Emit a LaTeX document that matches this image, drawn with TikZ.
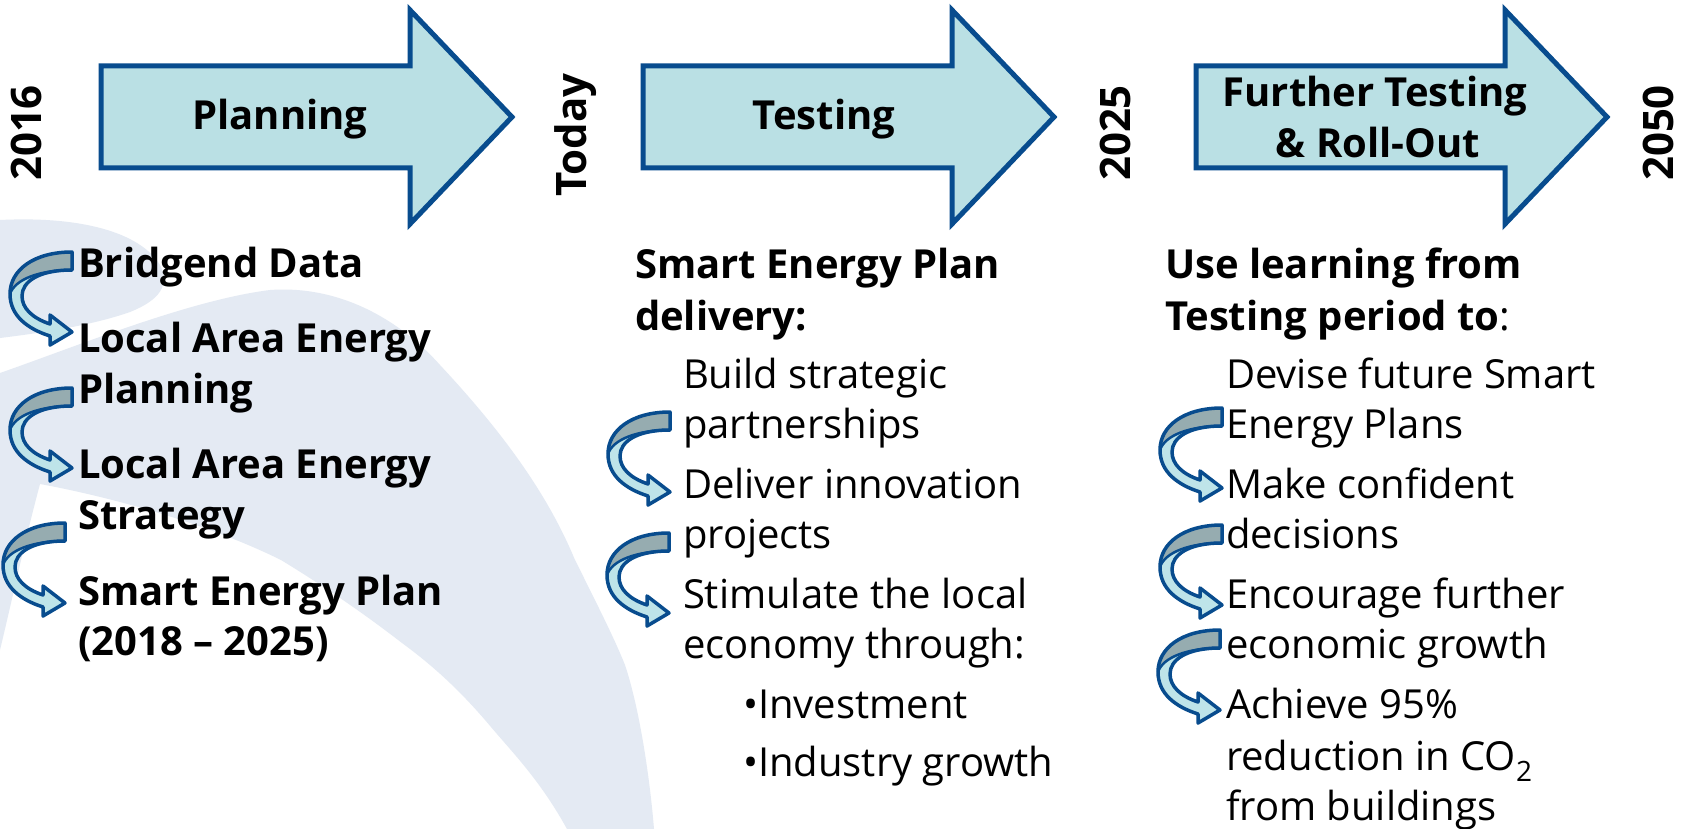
\documentclass[tikz,border=0pt]{standalone}
\usepackage{fontspec}
\setmainfont{Open Sans}
\definecolor{bgswoosh}{RGB}{228,234,243}
\definecolor{arrowblue}{RGB}{8,76,142}
\definecolor{arrowfill}{RGB}{186,224,228}
\definecolor{cfill}{RGB}{190,228,233}
\definecolor{gfill}{RGB}{150,172,176}
\tikzset{
  bigarrow/.style={draw=arrowblue, fill=arrowfill, line width=5pt, line join=miter},
  txt/.style={font=\fontsize{40}{50}\selectfont, anchor=base west, inner sep=0pt, outer sep=0pt},
  btxt/.style={txt, font=\fontsize{40}{50}\selectfont\bfseries},
  yearlbl/.style={font=\fontsize{42}{50}\selectfont\bfseries, rotate=90, inner sep=0pt},
  headlbl/.style={font=\fontsize{40}{50}\selectfont\bfseries, inner sep=0pt, anchor=base},
  cline/.style={draw=arrowblue, line width=3.5pt, line join=round},
  carrow/.pic={
    \fill[cfill] (0,0) .. controls (-38,0) and (-62,18) .. (-62,42)
      .. controls (-62,64) and (-44,77) .. (-22,84) -- (-22,93) -- (0,80) -- (-22,63) -- (-22,72)
      .. controls (-40,66) and (-50,56) .. (-50,44)
      .. controls (-50,30) and (-34,18) .. (0,18) -- cycle;
    \fill[gfill] (0,0) .. controls (-38,0) and (-62,18) .. (-62,42)
      .. controls (-57,27) and (-32,18) .. (0,18) -- cycle;
    \draw[arrowblue, line width=2.5pt] (-62,42) .. controls (-57,27) and (-32,18) .. (0,18);
    \draw[cline] (0,0) .. controls (-38,0) and (-62,18) .. (-62,42)
      .. controls (-62,64) and (-44,77) .. (-22,84) -- (-22,93) -- (0,80) -- (-22,63) -- (-22,72)
      .. controls (-40,66) and (-50,56) .. (-50,44)
      .. controls (-50,30) and (-34,18) .. (0,18) -- cycle;
  }
}
\begin{document}
\begin{tikzpicture}[x=1pt,y=-1pt]
\useasboundingbox (0,0) rectangle (1694,829);
\fill[white] (0,0) rectangle (1694,829);
% background swoosh
\fill[bgswoosh] (0,220) .. controls (80,216) and (140,232) .. (160,265)
  .. controls (170,285) and (160,300) .. (130,312)
  .. controls (90,326) and (40,333) .. (0,338) -- cycle;
\fill[bgswoosh] (0,373) .. controls (80,345) and (190,300) .. (270,290)
  .. controls (340,285) and (400,320) .. (440,365)
  .. controls (510,440) and (550,500) .. (575,560)
  .. controls (600,610) and (615,640) .. (625,665)
  .. controls (640,710) and (650,780) .. (654,829)
  -- (567,829) .. controls (540,780) and (512,752) .. (491,727)
  .. controls (460,690) and (432,665) .. (402,643)
  .. controls (362,612) and (322,585) .. (281,560)
  .. controls (200,520) and (100,495) .. (40,484)
  .. controls (25,540) and (12,600) .. (0,650) -- cycle;
% big arrows
\draw[bigarrow] (101,66) -- (410,66) -- (410,10) -- (512,117) -- (410,224) -- (410,168) -- (101,168) -- cycle;
\draw[bigarrow] (643,66) -- (952,66) -- (952,10) -- (1054,117) -- (952,224) -- (952,168) -- (643,168) -- cycle;
\draw[bigarrow] (1196,66) -- (1505,66) -- (1505,10) -- (1607,117) -- (1505,224) -- (1505,168) -- (1196,168) -- cycle;
% headings
\node[headlbl] (h1) at (280,130) {Planning};
\node[headlbl] (h2) at (824,130) {Testing};
\node[headlbl] (h3a) at (1375,107) {Further Testing};
\node[headlbl] (h3b) at (1378,158) {\& Roll-Out};
% years
\node[yearlbl] (y1) at (26,133) {2016};
\node[yearlbl] (y2) at (576,135) {Today};
\node[yearlbl] (y3) at (1115,133) {2025};
\node[yearlbl] (y4) at (1658,133) {2050};
% curved arrows
\pic at (72,252) {carrow};
\pic at (72,388) {carrow};
\pic at (65,523) {carrow};
\pic at (670,412) {carrow};
\pic at (669,533) {carrow};
\pic at (1222,408) {carrow};
\pic at (1222,525) {carrow};
\pic at (1220,630) {carrow};
% left column
\node[btxt] (l1) at (78,277) {Bridgend Data};
\node[btxt] (l2) at (78,352) {Local Area Energy};
\node[btxt] (l3) at (78,403) {Planning};
\node[btxt] (l4) at (78,478) {Local Area Energy};
\node[btxt] (l5) at (78,529) {Strategy};
\node[btxt] (l6) at (78,605) {Smart Energy Plan};
\node[btxt] (l7) at (78,655) {(2018 – 2025)};
% middle column
\node[btxt] (m1) at (635,278) {Smart Energy Plan};
\node[btxt] (m2) at (635,330) {delivery:};
\node[txt] (m3) at (683,388) {Build strategic};
\node[txt] (m4) at (683,438) {partnerships};
\node[txt] (m5) at (683,498) {Deliver innovation};
\node[txt] (m6) at (683,548) {projects};
\node[txt] (m7) at (683,608) {Stimulate the local};
\node[txt] (m8) at (683,658) {economy through:};
\node[txt] (m9) at (743,718) {•Investment};
\node[txt] (m10) at (743,776) {•Industry growth};
% right column
\node[btxt] (r1) at (1165,278) {Use learning from};
\node[txt] (r2) at (1165,330) {{\bfseries Testing period to}:};
\node[txt] (r3) at (1226,388) {Devise future Smart};
\node[txt] (r4) at (1226,438) {Energy Plans};
\node[txt] (r5) at (1226,498) {Make confident};
\node[txt] (r6) at (1226,548) {decisions};
\node[txt] (r7) at (1226,608) {Encourage further};
\node[txt] (r8) at (1226,658) {economic growth};
\node[txt] (r9) at (1226,718) {Achieve 95\%};
\node[txt] (r10) at (1226,770) {reduction in CO\textsubscript{2}};
\node[txt] (r11) at (1226,820) {from buildings};
\end{tikzpicture}
\end{document}
